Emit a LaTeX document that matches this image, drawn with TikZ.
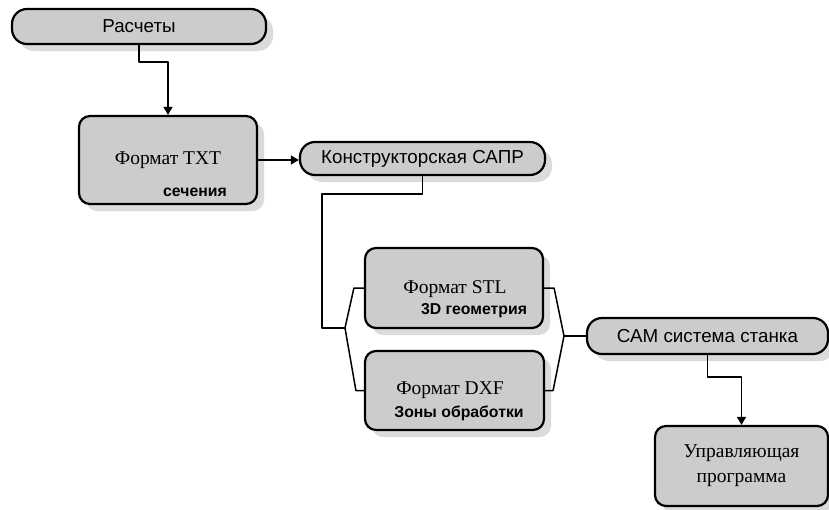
\documentclass[tikz,border=0pt]{standalone}
\usepackage{fontspec}
\setmainfont{Liberation Serif}
\setsansfont{Liberation Sans}
\usetikzlibrary{arrows.meta,shadows}
\tikzset{
  pill/.style={draw,line width=2.2pt,rounded corners=15pt,fill=gray!40,
    drop shadow={shadow xshift=7pt,shadow yshift=-7pt,fill=gray!28,opacity=1},
    inner sep=0pt,font=\sffamily\fontsize{18.8}{20}\selectfont},
  card/.style={draw,line width=2.2pt,rounded corners=11pt,fill=gray!40,
    drop shadow={shadow xshift=7pt,shadow yshift=-7pt,fill=gray!28,opacity=1},
    inner sep=0pt,align=center,font=\fontsize{19.5}{25}\selectfont},
  title/.style={font=\fontsize{19.5}{25}\selectfont,inner sep=0pt},
  sub/.style={font=\sffamily\bfseries\fontsize{15.8}{18}\selectfont,inner sep=0pt},
  link/.style={line width=1.5pt,line join=round}
}
\begin{document}
\begin{tikzpicture}[x=1pt,y=-1pt,>={Triangle[length=8pt,width=9pt]}]
\useasboundingbox (0,0) rectangle (829,509);
% boxes
\node[pill,minimum width=254pt,minimum height=35pt] (rasch) at (139,26.5) {Расчеты};
\node[card,minimum width=178pt,minimum height=88pt] (txt) at (168,160) {Формат TXT};
\node[pill,minimum width=245pt,minimum height=33pt] (sapr) at (422.5,158.5) {Конструкторская САПР};
\node[card,minimum width=178pt,minimum height=80pt] (stl) at (454,288) {};
\node[card,minimum width=179pt,minimum height=79pt] (dxf) at (454.5,390.5) {};
\node[pill,minimum width=241pt,minimum height=36pt] (cam) at (707.5,336) {САМ система станка};
\node[card,minimum width=173pt,minimum height=80pt] (upr) at (741.5,466) {Управляющая\\программа};
% texts in the cards
\node[sub] (txtsub) at (195,192) {сечения};
\node[title] (stltitle) at (455,289) {Формат STL};
\node[sub] (stlsub) at (474,311) {3D геометрия};
\node[title] (dxftitle) at (450,390) {Формат DXF};
\node[sub] (dxfsub) at (459,413) {Зоны обработки};
% junctions
\coordinate (lj) at (345,328);
\coordinate (rj) at (564,336);
% connectors
\draw[link,->] (rasch.south) -- ++(0,17) -| (txt.north);
\draw[link,->] (txt.east) -- (txt.east -| sapr.west);
\draw[link] (sapr.south) -- ++(0,18) -| (322,328) -- (lj);
\draw[link] (lj) -- ([xshift=-10pt]stl.west) -- (stl.west);
\draw[link] (lj) -- ([xshift=-8pt]dxf.west) -- (dxf.west);
\draw[link] (stl.east) -- ++(10,0) -- (rj);
\draw[link] (dxf.east) -- ++(8,0) -- (rj);
\draw[link] (rj) -- (cam.west);
\draw[link,->] (cam.south) -- ++(0,22) -| (upr.north);
\end{tikzpicture}
\end{document}
